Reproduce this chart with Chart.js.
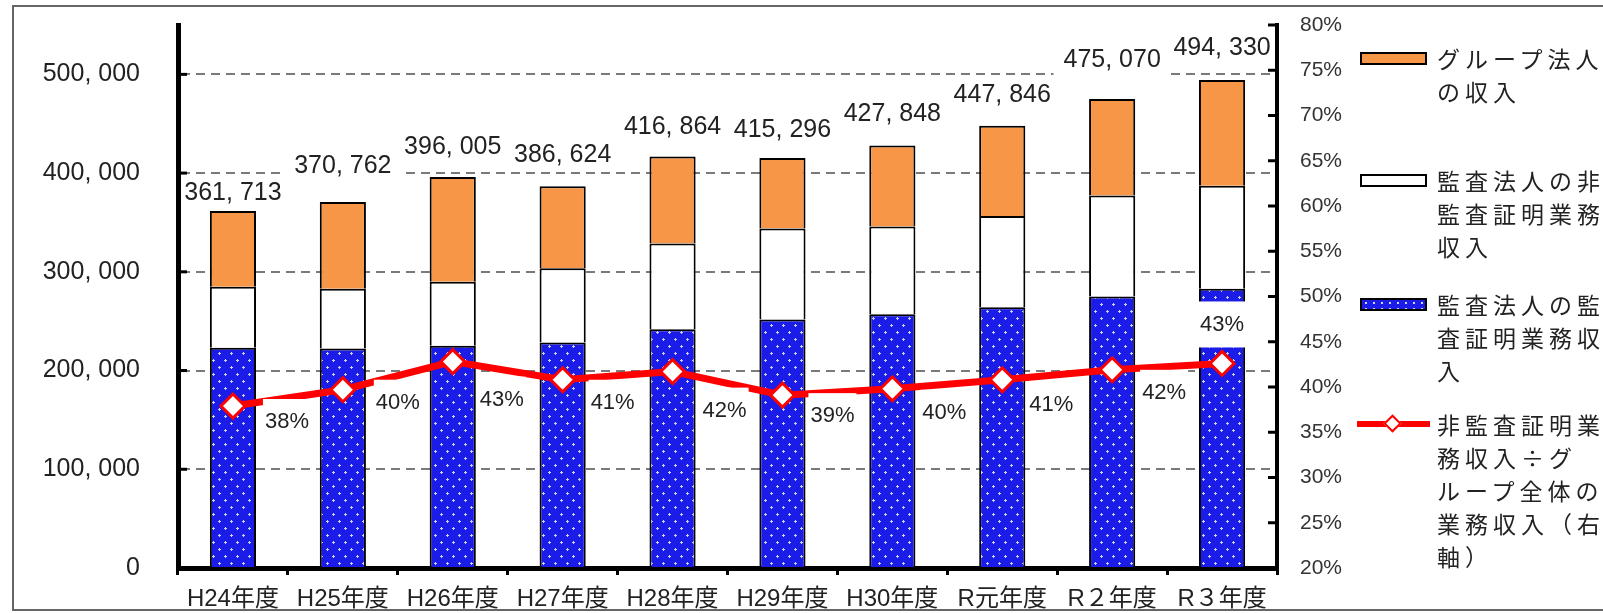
<!DOCTYPE html>
<html>
<head>
<meta charset="utf-8">
<script src="https://cdn.jsdelivr.net/npm/chart.js@4.4.1/dist/chart.umd.min.js"></script>
<style>
html, body { margin: 0; padding: 0; background: #fff; overflow: hidden; }
#wrap { position: relative; width: 1603px; height: 613px; }
#frame { position: absolute; left: 12px; top: 5px; width: 1620px; height: 606px; border: 2px solid #666; box-sizing: border-box; }
canvas { position: absolute; left: 0; top: 0; }
.leg { position: absolute; left: 1437px; font: 23px "Noto Sans CJK JP", sans-serif; letter-spacing: 5px; line-height: 33px; color: #222; white-space: nowrap; }
.swatch { position: absolute; left: 1360px; width: 67px; height: 13px; border: 2px solid #000; box-sizing: border-box; }
</style>
</head>
<body>
<div id="wrap">
  <div id="frame"></div>
  <canvas id="myChart" width="1603" height="613"></canvas>

  <div class="swatch" style="top:52px;background:#f79646"></div>
  <div class="leg" style="top:42px">グループ法人<br>の収入</div>

  <div class="swatch" style="top:174px;background:#fff"></div>
  <div class="leg" style="top:164px">監査法人の非<br>監査証明業務<br>収入</div>

  <div class="swatch" style="top:298px;background-color:#1c1ce8;background-image:radial-gradient(#cfd6ff 1px, transparent 1.6px);background-size:8px 6px"></div>
  <div class="leg" style="top:288px">監査法人の監<br>査証明業務収<br>入</div>

  <div style="position:absolute;left:1357px;top:421px;width:73px;height:6px;background:#ff0000"></div>
  <div style="position:absolute;left:1386px;top:417px;width:9px;height:9px;background:#fff;border:2px solid #ff0000;transform:rotate(45deg)"></div>
  <div class="leg" style="top:408px">非監査証明業<br>務収入÷グ<br>ループ全体の<br>業務収入（右<br>軸）</div>
</div>

<script>
// 年度
var categories = ["H24年度", "H25年度", "H26年度", "H27年度", "H28年度", "H29年度", "H30年度", "R元年度", "R２年度", "R３年度"];
// 監査法人の監査証明業務収入
var auditIncome = [223100, 222300, 225100, 228300, 241800, 251800, 257000, 264100, 274900, 282900];
// 監査法人の非監査証明業務収入
var nonAuditIncome = [61800, 60600, 64900, 75300, 86900, 92000, 88800, 92500, 102400, 104400];
// グループ法人の収入
var groupIncome = [76813, 87862, 106005, 83024, 88164, 71496, 82048, 91246, 97770, 107030];
// グループ全体（ラベル）
var groupTotals = [361713, 370762, 396005, 386624, 416864, 415296, 427848, 447846, 475070, 494330];
// 非監査証明業務収入÷グループ全体の業務収入（%）
var nonAuditRatio = [37.9, 39.7, 42.8, 40.8, 41.7, 39.1, 39.8, 40.8, 41.9, 42.6];

// 目盛
var leftTicks = [0, 100000, 200000, 300000, 400000, 500000];
var rightTicks = [20, 25, 30, 35, 40, 45, 50, 55, 60, 65, 70, 75, 80];
var leftMax = 550000;

// label placement (style only)
var totalGap = [18, 36, 30, 31, 29, 28, 31, 31, 39, 32];
var pctDx = [54, 55, 49, 50, 52, 50, 52, 49, 52, 0];
var pctDy = [16, 13, 38, 23, 39, 21, 24, 25, 23, -39];

var numFont = '"Liberation Sans", "Noto Sans CJK JP", sans-serif';
function fmt(v) { return v.toLocaleString('en-US').replace(/,/g, ', '); }

// blue dotted fill
var pc = document.createElement('canvas');
pc.width = 12; pc.height = 14;
var p = pc.getContext('2d');
p.fillStyle = '#1c1ce8';
p.fillRect(0, 0, 12, 14);
p.fillStyle = '#c9d2ff';
[[3, 3], [9, 10]].forEach(function (d) {
    p.fillRect(d[0] - 1, d[1], 3, 1);
    p.fillRect(d[0], d[1] - 1, 1, 3);
});
var bluePattern = p.createPattern(pc, 'repeat');

var labelPlugin = {
    id: 'labels',
    afterDatasetsDraw: function (chart) {
        var ctx = chart.ctx, area = chart.chartArea;
        var yS = chart.scales.y, y2S = chart.scales.y2;
        ctx.save();
        // inward ticks
        ctx.strokeStyle = '#000';
        ctx.lineWidth = 3;
        yS.ticks.forEach(function (t) {
            if (t.value === 0) return;
            var py = yS.getPixelForValue(t.value);
            ctx.beginPath(); ctx.moveTo(area.left, py); ctx.lineTo(area.left + 9, py); ctx.stroke();
        });
        y2S.ticks.forEach(function (t) {
            if (t.value === rightTicks[0]) return;
            var py = y2S.getPixelForValue(t.value);
            ctx.beginPath(); ctx.moveTo(area.right, py); ctx.lineTo(area.right - 9, py); ctx.stroke();
        });

        // keep label boxes off the axis lines
        ctx.beginPath();
        ctx.rect(area.left + 3, 0, area.right - area.left - 6, area.bottom - 3);
        ctx.clip();

        ctx.textAlign = 'center';
        ctx.textBaseline = 'middle';
        // totals
        ctx.font = '25px ' + numFont;
        var topMeta = chart.getDatasetMeta(2);
        groupTotals.forEach(function (v, i) {
            var bar = topMeta.data[i];
            var x = bar.x, y = bar.y - totalGap[i];
            var s = fmt(v), w = ctx.measureText(s).width;
            ctx.fillStyle = '#fff';
            ctx.fillRect(x - w / 2 - 10, y - 16, w + 20, 32);
            ctx.fillStyle = '#222';
            ctx.fillText(s, x, y);
        });
        // percentages
        ctx.font = '22px ' + numFont;
        var lineMeta = chart.getDatasetMeta(3);
        nonAuditRatio.forEach(function (v, i) {
            var pt = lineMeta.data[i];
            var x = pt.x + pctDx[i], y = pt.y + pctDy[i];
            var s = Math.round(v) + '%', w = ctx.measureText(s).width;
            ctx.fillStyle = '#fff';
            ctx.fillRect(x - w / 2 - 2, y - 23, w + 4, 46);
            ctx.fillStyle = '#222';
            ctx.fillText(s, x, y);
        });
        ctx.restore();
    }
};

var ctx1 = document.getElementById("myChart");
var myChart1 = new Chart(ctx1, {
    type: 'bar',
    data: {
        labels: categories,
        datasets: [
            {
                label: '監査法人の監査証明業務収入',
                data: auditIncome,
                backgroundColor: bluePattern,
                borderColor: '#000',
                borderWidth: 2,
                yAxisID: 'y',
                order: 1
            },
            {
                label: '監査法人の非監査証明業務収入',
                data: nonAuditIncome,
                backgroundColor: '#fff',
                borderColor: '#000',
                borderWidth: 2,
                yAxisID: 'y',
                order: 1
            },
            {
                label: 'グループ法人の収入',
                data: groupIncome,
                backgroundColor: '#f79646',
                borderColor: '#000',
                borderWidth: 2,
                yAxisID: 'y',
                order: 1
            },
            {
                type: 'line',
                label: '非監査証明業務収入÷グループ全体の業務収入（右軸）',
                data: nonAuditRatio,
                borderColor: '#ff0000',
                borderWidth: 7,
                pointStyle: 'rectRot',
                pointRadius: 12,
                pointBackgroundColor: '#fff',
                pointBorderColor: '#ff0000',
                pointBorderWidth: 3,
                tension: 0,
                yAxisID: 'y2',
                order: 0
            }
        ]
    },
    options: {
        responsive: false,
        animation: false,
        layout: { padding: { top: 25, left: 0, right: 0, bottom: 0 } },
        categoryPercentage: 1,
        barPercentage: 0.42,
        plugins: { legend: { display: false }, tooltip: { enabled: false } },
        scales: {
            x: {
                stacked: true,
                offset: true,
                grid: { offset: true, drawOnChartArea: false, drawTicks: true, tickLength: 7, color: '#000', lineWidth: 3 },
                border: { width: 5, color: '#000' },
                ticks: { font: { size: 24, family: numFont }, color: '#222', padding: 10, maxRotation: 0, autoSkip: false },
                afterFit: function (s) { s.height = 45; }
            },
            y: {
                stacked: true,
                position: 'left',
                min: 0,
                max: leftMax,
                grid: { color: '#7a7a7a', lineWidth: 2, drawTicks: true, tickLength: 38, tickColor: 'rgba(0,0,0,0)' },
                border: { width: 5, color: '#000', dash: [9, 6] },
                ticks: {
                    padding: 0,
                    color: '#222',
                    font: { size: 25, family: numFont },
                    callback: function (v) { return fmt(v); }
                },
                afterBuildTicks: function (s) { s.ticks = leftTicks.map(function (v) { return { value: v }; }); },
                afterFit: function (s) { s.width = 178; }
            },
            y2: {
                position: 'right',
                min: rightTicks[0],
                max: rightTicks[rightTicks.length - 1],
                grid: { drawOnChartArea: false, drawTicks: true, tickLength: 23, tickColor: 'rgba(0,0,0,0)' },
                border: { width: 4, color: '#000' },
                ticks: {
                    padding: 0,
                    color: '#333',
                    font: { size: 21, family: numFont },
                    callback: function (v) { return v + '%'; }
                },
                afterBuildTicks: function (s) { s.ticks = rightTicks.map(function (v) { return { value: v }; }); },
                afterFit: function (s) { s.width = 326; }
            }
        }
    },
    plugins: [labelPlugin]
});
</script>
</body>
</html>
